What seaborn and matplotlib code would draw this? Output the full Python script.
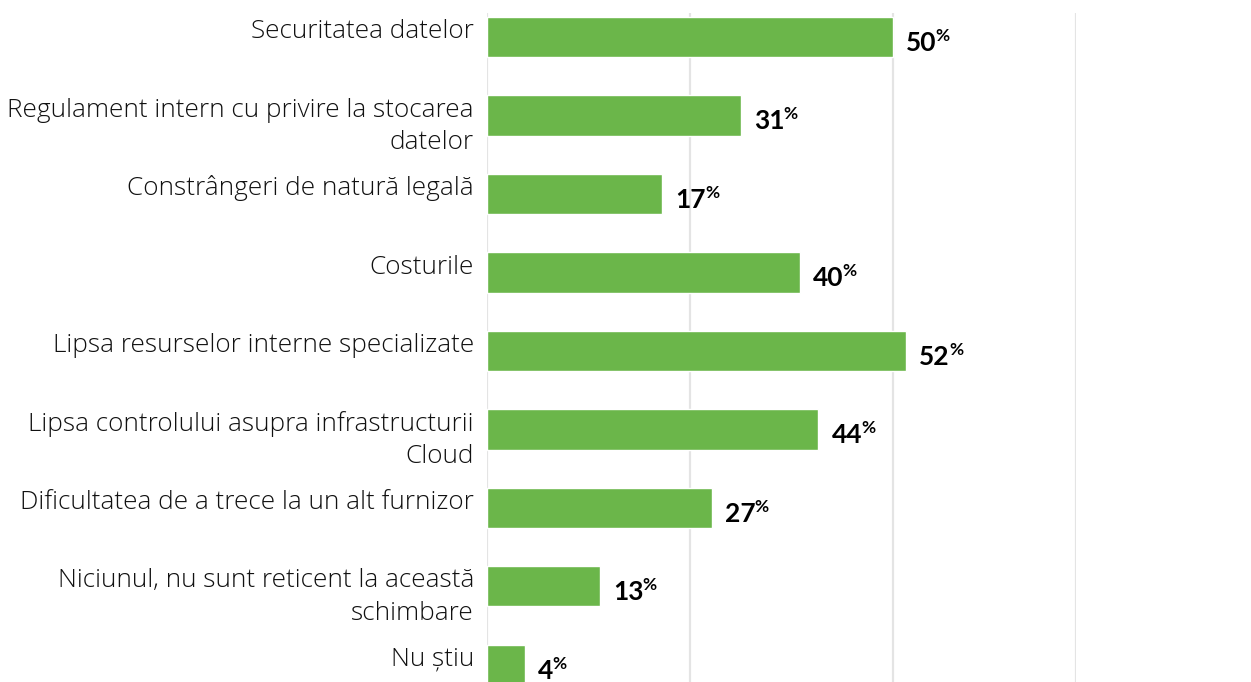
"""
Bar chart: motive de reticenta fata de Cloud (procente).
"""

import matplotlib.pyplot as plt
import seaborn as sns
import pandas as pd

categories = [
    "Securitatea datelor",
    "Regulament intern cu privire la stocarea\ndatelor",
    "Constrângeri de natură legală",
    "Costurile",
    "Lipsa resurselor interne specializate",
    "Lipsa controlului asupra infrastructurii\nCloud",
    "Dificultatea de a trece la un alt furnizor",
    "Niciunul, nu sunt reticent la această\nschimbare",
    "Nu știu",
]
# bar lengths as drawn in the picture
values = [50, 31.3, 21.6, 38.5, 51.6, 40.8, 27.7, 13.9, 4.7]
# the printed labels
value_labels = ["50", "31", "17", "40", "52", "44", "27", "13", "4"]

BAR_COLOR = "#6BB64A"
GRID_COLOR = "#E4E4E4"

df = pd.DataFrame({"category": categories, "value": values})

sns.set_style("white")
plt.rcParams["font.family"] = ["Lato", "DejaVu Sans"]

fig = plt.figure(figsize=(12.51, 6.82), dpi=100)
ax = fig.add_axes([487 / 1251, 0, (1076 - 487) / 1251, 1 - 13 / 682])

sns.barplot(data=df, x="value", y="category", orient="h", color=BAR_COLOR,
            width=0.51, saturation=1, ax=ax)

ax.set_xlim(0, 72.5)
ax.set_ylim(8.217, -0.306)

# vertical gridlines + frame edges
for x in [0, 25, 50, 72.5]:
    ax.axvline(x, color=GRID_COLOR, linewidth=1.6, zorder=0)
for side in ["top", "bottom", "left", "right"]:
    ax.spines[side].set_visible(False)

ax.set_xticks([])
ax.set_yticks([])
ax.set_xlabel("")
ax.set_ylabel("")

# category labels, first baseline at the bar centre, wrapped lines below
for i, label in enumerate(categories):
    for j, line in enumerate(label.split("\n")):
        ax.text(-0.0221, i + 0.013 + j * 0.408, line,
                transform=ax.get_yaxis_transform(),
                ha="right", va="baseline", fontsize=18.8, fontweight="light",
                family=["Open Sans", "DejaVu Sans"], color="#111111")

# value labels: bold number + small superscript %
nums = []
for i, v in enumerate(values):
    t = ax.annotate(value_labels[i], xy=(v, i), xytext=(9.4, -4),
                    textcoords="offset points", ha="left", va="center",
                    fontsize=19, fontweight="bold", color="black")
    nums.append(t)

fig.canvas.draw()
renderer = fig.canvas.get_renderer()
for t in nums:
    bb = t.get_window_extent(renderer)
    x, y = fig.transFigure.inverted().transform((bb.x1 - 1, bb.y1 + 3))
    fig.text(x, y, "%", ha="left", va="top", fontsize=12.5, fontweight="bold",
             color="black")

plt.savefig("out.png", dpi=100)
